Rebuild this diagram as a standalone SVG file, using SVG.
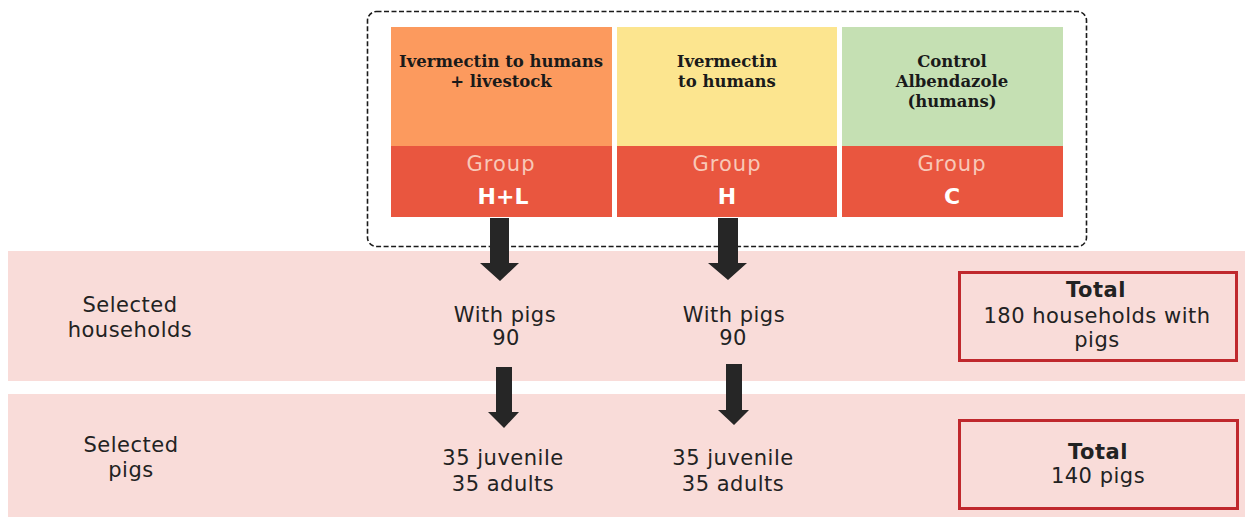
<svg xmlns="http://www.w3.org/2000/svg" width="1245" height="517" viewBox="0 0 1245 517">
<style>
.serif{font-family:"DejaVu Serif","Liberation Serif",serif;font-weight:bold;font-size:16.5px;fill:#1a1a1a;text-anchor:middle}
.grp{font-family:"DejaVu Sans","Liberation Sans",sans-serif;font-size:21px;fill:#f8c8b8;text-anchor:middle;letter-spacing:1px}
.code{font-family:"DejaVu Sans","Liberation Sans",sans-serif;font-weight:bold;font-size:22px;fill:#ffffff;text-anchor:middle}
.lbl{font-family:"DejaVu Sans","Liberation Sans",sans-serif;font-size:21px;fill:#222222;text-anchor:middle;letter-spacing:0.5px}
.bold{font-weight:bold}
.band{fill:#f9dcd9}
.tot{fill:none;stroke:#c0282d;stroke-width:3}
.arrow{fill:#262626}
</style>
<rect width="1245" height="517" fill="#ffffff"/>
<g id="band-households"><rect class="band" x="8" y="251" width="1237" height="130"/></g>
<g id="band-pigs"><rect class="band" x="8" y="394" width="1237" height="123"/></g>
<g id="arms-frame"><rect x="367.5" y="11.5" width="719" height="235" rx="9" fill="none" stroke="#1a1a1a" stroke-width="1.6" stroke-dasharray="5,2.5"/></g>
<g id="arm-HL">
<rect x="391" y="27" width="221" height="119" fill="#fc9a5e"/>
<rect x="391" y="146" width="221" height="71" fill="#e9563f"/>
<text class="serif" x="501" y="67">Ivermectin to humans</text>
<text class="serif" x="501" y="87">+ livestock</text>
<text class="grp" x="501" y="171">Group</text>
<text class="code" x="503" y="204">H+L</text>
</g>
<g id="arm-H">
<rect x="617" y="27" width="220" height="119" fill="#fce58f"/>
<rect x="617" y="146" width="220" height="71" fill="#e9563f"/>
<text class="serif" x="727" y="67">Ivermectin</text>
<text class="serif" x="727" y="87">to humans</text>
<text class="grp" x="727" y="171">Group</text>
<text class="code" x="727" y="204">H</text>
</g>
<g id="arm-C">
<rect x="842" y="27" width="221" height="119" fill="#c5e0b3"/>
<rect x="842" y="146" width="221" height="71" fill="#e9563f"/>
<text class="serif" x="952" y="67">Control</text>
<text class="serif" x="952" y="87">Albendazole</text>
<text class="serif" x="952" y="107">(humans)</text>
<text class="grp" x="952" y="171">Group</text>
<text class="code" x="952" y="204">C</text>
</g>
<g id="row-labels">
<text class="lbl" x="130" y="312">Selected</text>
<text class="lbl" x="130" y="337">households</text>
<text class="lbl" x="131" y="452">Selected</text>
<text class="lbl" x="131" y="477">pigs</text>
</g>
<g id="hh-HL"><text class="lbl" x="505" y="322">With pigs</text><text class="lbl" x="506" y="345">90</text></g>
<g id="hh-H"><text class="lbl" x="734" y="322">With pigs</text><text class="lbl" x="733" y="345">90</text></g>
<g id="pigs-HL"><text class="lbl" x="503" y="465">35 juvenile</text><text class="lbl" x="503" y="491">35 adults</text></g>
<g id="pigs-H"><text class="lbl" x="733" y="465">35 juvenile</text><text class="lbl" x="733" y="491">35 adults</text></g>
<g id="total-hh">
<rect class="tot" x="959.5" y="272.5" width="277" height="88"/>
<text class="lbl bold" x="1096" y="297">Total</text>
<text class="lbl" x="1097" y="323">180 households with</text>
<text class="lbl" x="1097" y="347">pigs</text>
</g>
<g id="total-pigs">
<rect class="tot" x="959.5" y="420.5" width="278" height="88"/>
<text class="lbl bold" x="1098" y="459">Total</text>
<text class="lbl" x="1098" y="483">140 pigs</text>
</g>
<g id="connectors">
<polygon class="arrow" points="490,218 509,218 509,263 519,263 500,281 480,263 490,263"/>
<polygon class="arrow" points="718,218 738,218 738,263 747,263 728,280 708,263 718,263"/>
<polygon class="arrow" points="496,367 512,367 512,412 519,412 504,428 488,412 496,412"/>
<polygon class="arrow" points="726,364 742,364 742,410 749,410 734,425 718,410 726,410"/>
</g>
</svg>
